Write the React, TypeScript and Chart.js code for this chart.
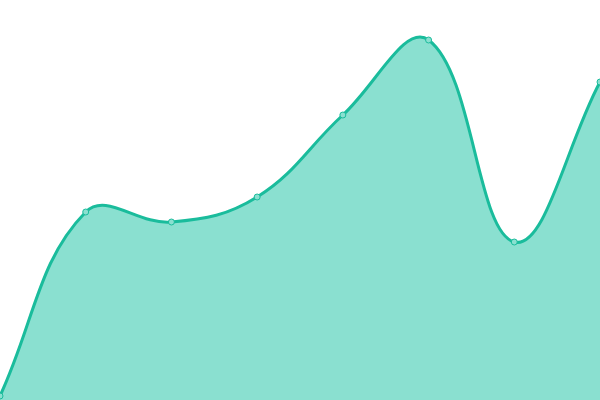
import React, { useEffect, useRef } from "react";
import { Chart, registerables } from "chart.js";

Chart.register(...registerables);

const labels = ["1", "2", "3", "4", "5", "6", "7", "8"];
const values = [1, 47, 44.5, 50.75, 71.25, 90, 39.5, 79.5];

// Chart.js keeps room for the end points; the canvas is made larger by this
// amount and shifted so the plot area fills the 600x400 view.
const OVERFLOW = 5;

const App = () => {
  const canvasRef = useRef<HTMLCanvasElement>(null);

  useEffect(() => {
    document.body.style.margin = "0";
    const ctx = canvasRef.current?.getContext("2d");
    if (!ctx) return;

    const chart = new Chart(ctx, {
      type: "line",
      data: {
        labels,
        datasets: [
          {
            data: values,
            borderColor: "#1abc9c",
            backgroundColor: "#8ae0d0",
            borderWidth: 3,
            fill: "origin",
            tension: 0.4,
            pointRadius: 3,
            pointHoverRadius: 4,
            pointBorderWidth: 1,
            pointBackgroundColor: "#8ae0d0",
            pointBorderColor: "#1abc9c",
          },
        ],
      },
      options: {
        animation: false,
        responsive: false,
        layout: { padding: 0 },
        plugins: {
          legend: { display: false },
          tooltip: { enabled: false },
        },
        scales: {
          x: { display: false, offset: false },
          y: { display: false, min: 0, max: 100 },
        },
      },
    });

    return () => chart.destroy();
  }, []);

  return (
    <div
      style={{
        width: 600,
        height: 400,
        overflow: "hidden",
        position: "relative",
      }}
    >
      <canvas
        ref={canvasRef}
        width={600 + OVERFLOW * 2}
        height={400 + OVERFLOW * 2}
        style={{ position: "absolute", left: -OVERFLOW, top: -OVERFLOW }}
      ></canvas>
    </div>
  );
};

export default App;
